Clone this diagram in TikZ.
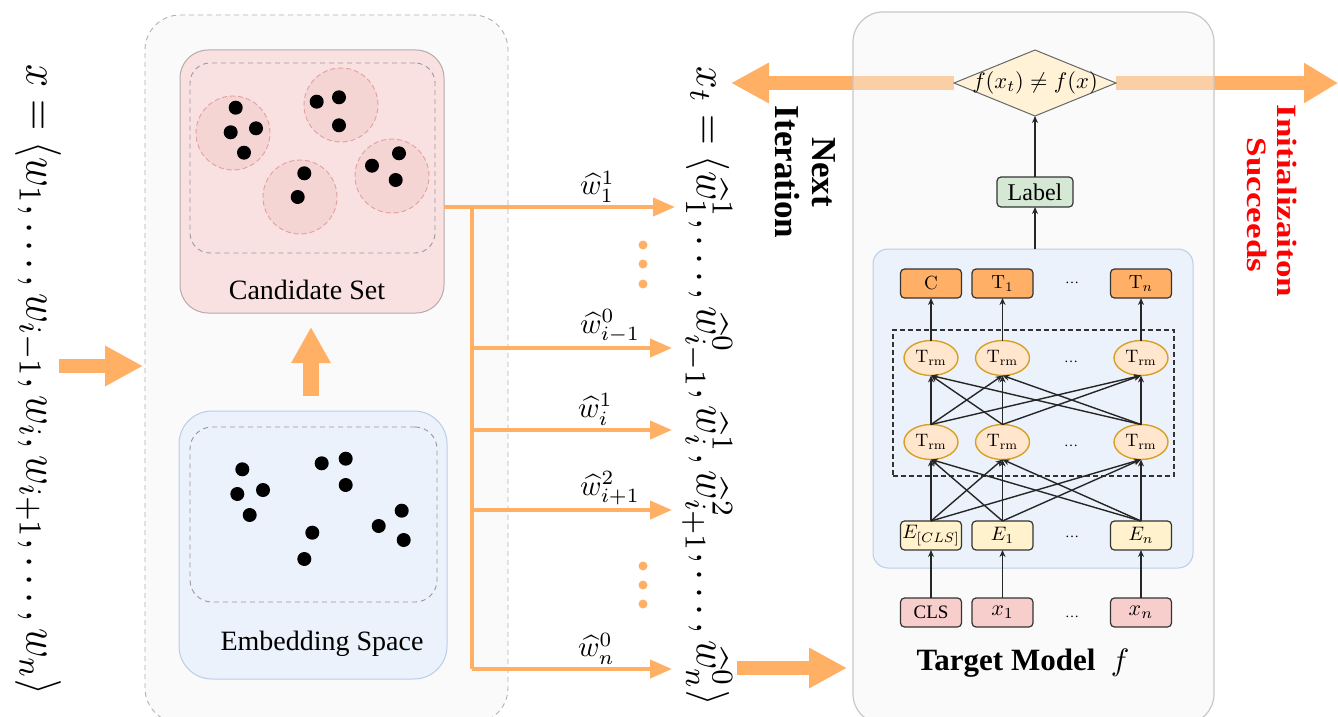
\RequirePackage{fix-cm}
\documentclass[tikz,border=0pt]{standalone}
\usepackage[no-math]{fontspec}
\setmainfont{Liberation Serif}
\usepackage{graphicx}
\usetikzlibrary{arrows.meta,shapes.geometric}

\definecolor{org}{RGB}{255,176,100}
\definecolor{outerfill}{RGB}{250,250,250}
\definecolor{candfill}{RGB}{249,225,225}
\definecolor{canddraw}{RGB}{185,170,170}
\definecolor{clusterfill}{RGB}{245,212,212}
\definecolor{clusterdraw}{RGB}{225,160,160}
\definecolor{embfill}{RGB}{236,242,251}
\definecolor{embdraw}{RGB}{185,205,232}
\definecolor{tfill}{RGB}{246,246,246}
\definecolor{tdraw}{RGB}{200,200,200}
\definecolor{diafill}{RGB}{255,242,214}
\definecolor{lblfill}{RGB}{213,232,212}
\definecolor{topfill}{RGB}{255,176,102}
\definecolor{trmfill}{RGB}{255,230,204}
\definecolor{trmdraw}{RGB}{215,160,40}
\definecolor{efill}{RGB}{255,242,204}
\definecolor{infill}{RGB}{248,206,204}

\newcommand{\fs}[1]{\fontsize{#1}{#1}\selectfont}
\newcommand{\sm}[2]{{\fs{10}\scalebox{#1}{$#2$}}}

\begin{document}
\begin{tikzpicture}[x=1pt,y=-1pt,
  every node/.style={outer sep=0pt},
  bigarr/.style={draw=org,line width=14pt,-{Triangle[length=38pt,width=38pt]}},
  oarr/.style={draw=org,line width=4pt,-{Triangle[length=22pt,width=18pt]}},
  oline/.style={draw=org,line width=4pt},
  bar/.style={draw=black!85,line width=1.4pt,-{Stealth[length=7pt,width=6pt]}},
  innerdash/.style={draw=black!40,dashed,dash pattern=on 5pt off 4pt,line width=0.9pt},
  cluster/.style={fill=clusterfill,draw=clusterdraw,dash pattern=on 5pt off 3pt,line width=0.9pt},
  cell/.style={draw=black!80,line width=1.2pt,rounded corners=4pt,minimum width=61pt,minimum height=29pt,inner sep=0pt,font=\fs{10}},
  topbox/.style={cell,fill=topfill},
  ebox/.style={cell,fill=efill},
  inbox/.style={cell,fill=infill},
  trm/.style={ellipse,draw=trmdraw,fill=trmfill,line width=1.4pt,minimum width=54pt,minimum height=35pt,inner sep=0pt,font=\fs{10}},
  hdots/.style={font=\fs{14}},
  hatlbl/.style={anchor=south west,inner sep=2pt,font=\fs{10}}
]
\useasboundingbox (0,0) rectangle (1338,717);
\fill[white] (0,0) rectangle (1338,717);

% ---------- outer dashed container ----------
\node[draw=black!30,fill=outerfill,dash pattern=on 5pt off 4pt,line width=0.9pt,rounded corners=35pt,
      minimum width=363pt,minimum height=708pt] (outer) at (326.5,369) {};

% ---------- candidate set ----------
\node[draw=canddraw,fill=candfill,line width=1pt,rounded corners=28pt,minimum width=264pt,minimum height=263pt] (cand) at (312,181.5) {};
\node[innerdash,rounded corners=20pt,minimum width=245pt,minimum height=190pt] (candin) at (312.5,158) {};
\foreach \p in {(233,133),(341,105),(300,197),(392,176)} \filldraw[cluster] \p circle (37pt);
\foreach \p in {(235.7,107.7),(230.7,132.3),(256,128.3),(244,152.7),
                (316.7,101.7),(339,97.3),(339,125.3),
                (304.3,173.3),(297.7,197),
                (372,165.7),(399,153.3),(395.7,180)}
  \fill[black] \p circle (7pt);
\node[font=\fs{28}] (candtxt) at (307,290) {Candidate Set};

% ---------- embedding space ----------
\node[draw=embdraw,fill=embfill,line width=1pt,rounded corners=33pt,minimum width=268pt,minimum height=268pt] (emb) at (313,545) {};
\node[innerdash,rounded corners=22pt,minimum width=247pt,minimum height=175pt] (embin) at (313.5,514.5) {};
\foreach \p in {(242.3,469.3),(237.3,494),(263,490),(249.7,515),
                (321.7,463.3),(345.7,458.7),(345.7,485),
                (312.3,532.7),(304.3,559),
                (378.7,526),(401.7,510.7),(403.7,540)}
  \fill[black] \p circle (7pt);
\node[font=\fs{28}] (embtxt) at (322,644) {Embedding Space};

% up arrow
\coordinate (upS) at (311,396);
\coordinate (upE) at (311,327);
\draw[draw=org,line width=16pt,-{Triangle[length=36pt,width=37pt]}] (upS) -- (upE);

% ---------- input sentence ----------
\node[rotate=-90] (xin) at (38,380) {\resizebox*{630pt}{46pt}{$x=\langle w_1,\ldots,w_{i-1},w_i,w_{i+1},\ldots,w_n\rangle$}};
\coordinate (inS) at (59,366);
\coordinate (inE) at (143,366);
\draw[bigarr] (inS) -- (inE);

% ---------- orange branches ----------
\coordinate (br1) at (472,207);
\coordinate (br2) at (472,348);
\coordinate (br3) at (472,430);
\coordinate (br4) at (472,510);
\coordinate (br5) at (472,669);
\coordinate (t1) at (675,207);
\coordinate (t2) at (672,348);
\coordinate (t3) at (672,430);
\coordinate (t4) at (672,510);
\coordinate (t5) at (672,669);
\draw[oline] (br1) -- (br5);
\draw[oarr] (cand.east |- br1) -- (t1);
\draw[oarr] (br2) -- (t2);
\draw[oarr] (br3) -- (t3);
\draw[oarr] (br4) -- (t4);
\draw[oarr] (br5) -- (t5);
\node[hatlbl] (l1) at (578,204) {\sm{2.9}{\widehat{w}_1^1}};
\node[hatlbl] (l2) at (578,345) {\sm{2.9}{\widehat{w}_{i-1}^0}};
\node[hatlbl] (l3) at (576,427) {\sm{2.9}{\widehat{w}_i^1}};
\node[hatlbl] (l4) at (578,507) {\sm{2.9}{\widehat{w}_{i+1}^2}};
\node[hatlbl] (l5) at (576,666) {\sm{2.9}{\widehat{w}_n^0}};
\foreach \y in {245,264,284,566,585,604} \fill[org] (643,\y) circle (4.5pt);

% ---------- x_t ----------
\node[rotate=-90] (xt) at (707,386) {\resizebox*{639pt}{50pt}{$x_t=\langle \widehat{w}_1^1,\ldots,\widehat{w}_{i-1}^0,\widehat{w}_i^1,\widehat{w}_{i+1}^2,\ldots,\widehat{w}_n^0\rangle$}};

\node[rotate=-90,font=\fs{35}\bfseries] (next) at (824,172) {Next};
\node[rotate=-90,font=\fs{35}\bfseries] (iter) at (787,172) {Iteration};

% big top arrows (drawn before the target box)
\coordinate (lS) at (954,83);
\coordinate (lE) at (731,83);
\coordinate (rS) at (1116,83);
\coordinate (rE) at (1338,83);
\draw[bigarr] (lS) -- (lE);
\draw[draw=org,line width=14pt,-{Triangle[length=34pt,width=38pt]}] (rS) -- (rE);

% ---------- target model ----------
\node[draw=tdraw,fill=tfill,fill opacity=0.45,line width=1.2pt,rounded corners=30pt,
      minimum width=361pt,minimum height=712pt] (target) at (1033.5,368) {};

\node[diamond,draw=black!60,fill=diafill,line width=1pt,minimum width=162pt,minimum height=66pt,inner sep=0pt] (cond) at (1035,83) {};
\node[font=\fs{10}] (condtxt) at (cond.center) {\sm{2.25}{f(x_t)\neq f(x)}};

\node[draw=black!80,fill=lblfill,line width=1.2pt,rounded corners=4pt,minimum width=76pt,minimum height=30pt,inner sep=0pt,font=\fs{24}] (label) at (1035,192) {Label};

\node[draw=embdraw,fill=embfill,line width=1pt,rounded corners=15pt,minimum width=320pt,minimum height=319pt] (bert) at (1033,408.5) {};
\node[draw=black!80,dashed,dash pattern=on 5pt off 3pt,line width=1.3pt,minimum width=281pt,minimum height=146pt] (enc) at (1033.5,403) {};

\draw[bar] (label.south |- bert.north) -- (label.south);
\draw[bar] (label.north) -- (cond.south);

% columns
\node[topbox] (top1) at (931,283.5) {\sm{1.9}{\mathrm{C}}};
\node[topbox] (top2) at (1002.5,283.5) {\sm{1.9}{\mathrm{T}_1}};
\node[topbox] (top3) at (1141,283.5) {\sm{1.9}{\mathrm{T}_n}};
\node[hdots] (topd) at (1072,283) {\ldots};

\node[trm] (ta1) at (931,358) {\sm{1.8}{\mathrm{T}_{\mathrm{rm}}}};
\node[trm] (ta2) at (1002.5,358) {\sm{1.8}{\mathrm{T}_{\mathrm{rm}}}};
\node[trm] (ta3) at (1141,358) {\sm{1.8}{\mathrm{T}_{\mathrm{rm}}}};
\node[hdots] (tad) at (1071,362) {\ldots};

\node[trm] (tb1) at (931,442) {\sm{1.8}{\mathrm{T}_{\mathrm{rm}}}};
\node[trm] (tb2) at (1002.5,442) {\sm{1.8}{\mathrm{T}_{\mathrm{rm}}}};
\node[trm] (tb3) at (1141,442) {\sm{1.8}{\mathrm{T}_{\mathrm{rm}}}};
\node[hdots] (tbd) at (1071,446) {\ldots};

\node[ebox] (e1) at (931,535.5) {\sm{1.95}{E_{[CLS]}}};
\node[ebox] (e2) at (1002.5,535.5) {\sm{1.95}{E_1}};
\node[ebox] (e3) at (1141,535.5) {\sm{1.95}{E_n}};
\node[hdots] (ed) at (1072,537) {\ldots};

\node[inbox,font=\fs{19}] (in1) at (931,612.5) {CLS};
\node[inbox] (in2) at (1002.5,612.5) {\sm{2.2}{x_1}};
\node[inbox] (in3) at (1141,612.5) {\sm{2.2}{x_n}};
\node[hdots] (ind) at (1072,617) {\ldots};

\foreach \a in {1,2,3}{
  \draw[bar] (in\a) -- (e\a);
  \draw[bar] (ta\a) -- (top\a);
  \foreach \b in {1,2,3}{
    \draw[bar] (e\a.north) -- (tb\b.south);
    \draw[bar] (tb\a.north) -- (ta\b.south);
  }
}

\node[font=\fs{31}] (tmodel) at (1023,663) {\textbf{Target Model}\ \ \sm{3.1}{f}};

% bottom arrow into target model
\coordinate (bS) at (737,668);
\coordinate (bE) at (847,668);
\draw[bigarr] (bS) -- (bE);

% success text
\node[rotate=-90,font=\fs{35}\bfseries,text=red] (init) at (1287,201) {\scalebox{1}[0.8]{Initializaiton}};
\node[rotate=-90,font=\fs{35}\bfseries,text=red] (succ) at (1257,205) {\scalebox{1}[0.8]{Succeeds}};
\end{tikzpicture}
\end{document}
